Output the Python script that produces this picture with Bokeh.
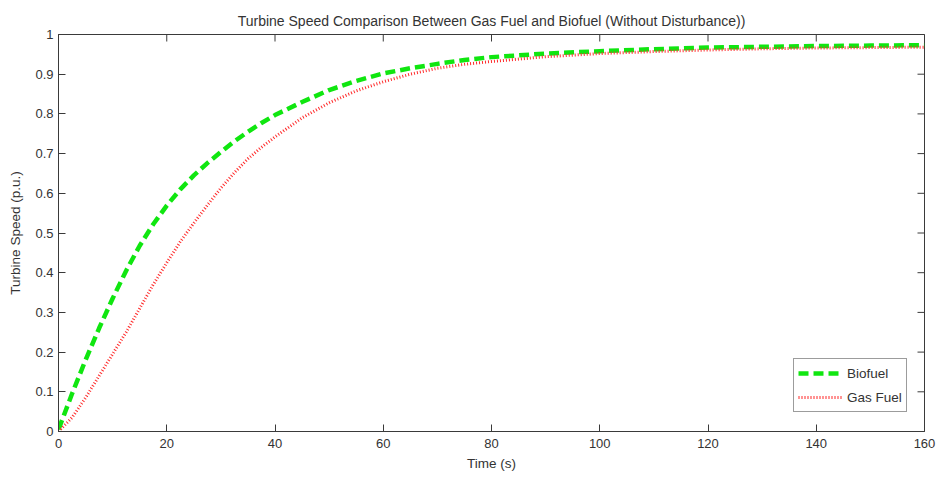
import math
from bokeh.plotting import figure
from bokeh.models import LinearAxis, Range1d, FixedTicker, Legend, LegendItem
from bokeh.embed import file_html
from bokeh.resources import INLINE

# ---- data ----
time_s = [0, 2.5, 5, 7.5, 10, 12.5, 15, 17.5, 20, 22.5, 25, 27.5, 30, 32.5, 35, 37.5, 40,
          45, 50, 55, 60, 65, 70, 75, 80, 90, 100, 110, 120, 130, 140, 150, 160]
biofuel = [0.005, 0.095, 0.18, 0.26, 0.335, 0.405, 0.468, 0.522, 0.569, 0.61, 0.645, 0.676,
           0.704, 0.731, 0.755, 0.777, 0.797, 0.83, 0.86, 0.883, 0.902, 0.915, 0.926, 0.936,
           0.943, 0.952, 0.958, 0.963, 0.967, 0.969, 0.971, 0.972, 0.973]
gas_fuel = [0.0, 0.035, 0.085, 0.14, 0.195, 0.25, 0.31, 0.37, 0.425, 0.478, 0.525, 0.57,
            0.613, 0.652, 0.687, 0.716, 0.742, 0.79, 0.828, 0.858, 0.881, 0.9, 0.915, 0.925,
            0.932, 0.944, 0.952, 0.957, 0.961, 0.964, 0.966, 0.967, 0.968]
x_ticks = [0, 20, 40, 60, 80, 100, 120, 140, 160]
y_ticks = [0, 0.1, 0.2, 0.3, 0.4, 0.5, 0.6, 0.7, 0.8, 0.9, 1]
y_tick_labels = ["0", "0.1", "0.2", "0.3", "0.4", "0.5", "0.6", "0.7", "0.8", "0.9", "1"]
x_min, x_max = 0, 160
y_min, y_max = 0, 1

FONT = "Liberation Sans"
AX_COL = "#3a3a3a"
TXT_COL = "#333333"

p = figure(width=938, height=479, output_backend="svg", toolbar_location=None,
           x_range=Range1d(x_min, x_max), y_range=Range1d(y_min, y_max),
           min_border_left=58, min_border_right=14, min_border_top=34, min_border_bottom=48,
           x_axis_location=None, y_axis_location=None)
p.background_fill_color = "white"
p.border_fill_color = "white"
p.outline_line_color = AX_COL
p.outline_line_width = 1
p.xgrid.visible = False
p.ygrid.visible = False

p.title.text = "Turbine Speed Comparison Between Gas Fuel and Biofuel (Without Disturbance))"
p.title.align = "center"
p.title.text_font = FONT
p.title.text_font_size = "14px"
p.title.text_font_style = "normal"
p.title.text_color = TXT_COL
p.title.standoff = 12


def style_axis(ax, ticks):
    ax.ticker = FixedTicker(ticks=ticks)
    ax.axis_line_color = AX_COL
    ax.major_tick_line_color = AX_COL
    ax.major_tick_in = 7
    ax.major_tick_out = 0
    ax.minor_tick_line_color = None
    ax.major_label_text_font = FONT
    ax.major_label_text_font_size = "13px"
    ax.major_label_text_color = TXT_COL
    ax.axis_label_text_font = FONT
    ax.axis_label_text_font_size = "13.5px"
    ax.axis_label_text_font_style = "normal"
    ax.axis_label_text_color = TXT_COL


xb = LinearAxis(axis_label="Time (s)")
style_axis(xb, x_ticks)
xb.major_label_standoff = 7
xb.axis_label_standoff = 5
p.add_layout(xb, "below")

yl = LinearAxis(axis_label="Turbine Speed (p.u.)")
style_axis(yl, y_ticks)
yl.major_label_overrides = {t: s for t, s in zip(y_ticks, y_tick_labels)}
yl.major_label_standoff = 5
yl.axis_label_standoff = 9
p.add_layout(yl, "left")

# mirrored inward ticks on the top and right edges of the box (clipped to the frame)
p.scatter(x_ticks, [y_max] * len(x_ticks), marker="dash", size=14, angle=math.pi / 2,
          line_color=AX_COL, line_width=1)
p.scatter([x_max] * len(y_ticks), y_ticks, marker="dash", size=14,
          line_color=AX_COL, line_width=1)

r_bio = p.line(time_s, biofuel, line_color="#10e610", line_width=4.5, line_dash="10 5")
r_gas = p.line(time_s, gas_fuel, line_color="#ff2a2a", line_width=3, line_dash="1 2")

legend = Legend(items=[LegendItem(label="Biofuel", renderers=[r_bio]),
                       LegendItem(label="Gas Fuel", renderers=[r_gas])],
                location=(735, 19))
legend.label_text_font = FONT
legend.label_text_font_size = "13.5px"
legend.label_text_color = TXT_COL
legend.glyph_width = 44
legend.glyph_height = 20
legend.label_height = 20
legend.label_standoff = 5
legend.spacing = 4
legend.padding = 4
legend.margin = 0
legend.border_line_color = AX_COL
legend.border_line_width = 1
legend.background_fill_color = "white"
legend.background_fill_alpha = 1
p.add_layout(legend)

open("out.html", "w").write(file_html(p, INLINE))
